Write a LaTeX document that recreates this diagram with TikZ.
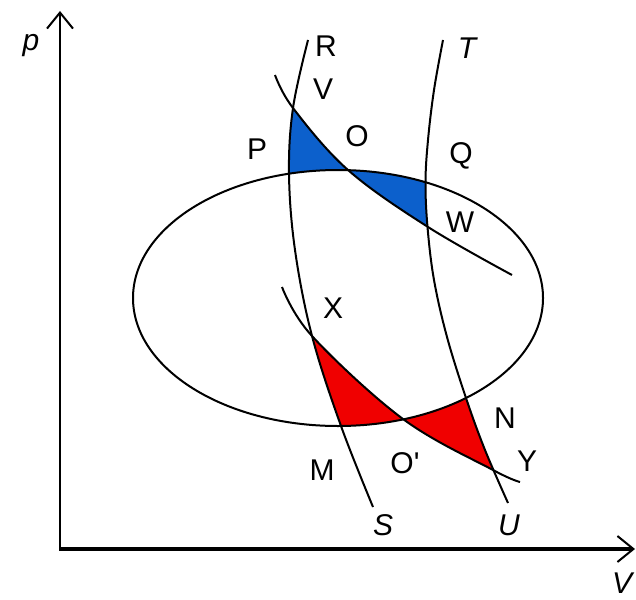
\documentclass[tikz,border=0pt]{standalone}
\usepackage{fontspec}
\setmainfont{Liberation Sans}
\usetikzlibrary{arrows.meta}
\definecolor{regblue}{RGB}{12,96,204}
\definecolor{regred}{RGB}{240,0,0}
\newcommand\curveRS{plot[smooth,tension=0.6] coordinates {(308,40) (293,108) (289,174) (295,250) (312,336) (341,426) (373,507)}}
\newcommand\curveTU{plot[smooth,tension=0.6] coordinates {(443,40) (434,90) (428,140) (425.5,182) (427.5,227) (434,280) (447,337) (466,398) (485,450) (508,503)}}
\newcommand\curveVW{plot[smooth,tension=0.6] coordinates {(275,75) (293,108) (348,170) (428,227) (512,275)}}
\newcommand\curveXY{plot[smooth,tension=0.6] coordinates {(282,287) (312,336) (403,419) (493,470) (520,482)}}
\newcommand\ellpath{(338,298) ellipse [x radius=205, y radius=128]}
\tikzset{
  curve/.style={line width=1pt, black},
  lbl/.style={font=\fontsize{15}{18}\selectfont, inner sep=0pt},
  ilbl/.style={lbl, font=\fontsize{15}{18}\selectfont\itshape},
  axis/.style={black, -{Straight Barb[length=8pt, width=13pt, line width=1pt]}}
}
\begin{document}
\begin{tikzpicture}[x=0.5pt, y=-0.5pt]
\useasboundingbox (0,0) rectangle (636,599);
\fill[white] (0,0) rectangle (636,599);
% blue region 1 (V-O-P)
\begin{scope}
  \clip (283,100) rectangle (352,176);
  \clip \curveRS -- (700,507) -- (700,40) -- cycle;
  \clip \curveVW -- (512,600) -- (275,600) -- cycle;
  \fill[regblue, even odd rule] (0,0) rectangle (636,599) \ellpath;
\end{scope}
% blue region 2 (O-Q-W)
\begin{scope}
  \clip (346,160) rectangle (432,232);
  \clip \ellpath;
  \clip \curveVW -- (512,0) -- (275,0) -- cycle;
  \clip \curveTU -- (0,503) -- (0,40) -- cycle;
  \fill[regblue] (0,0) rectangle (636,599);
\end{scope}
% red region 1 (X-O'-M)
\begin{scope}
  \clip (300,325) rectangle (405,432);
  \clip \ellpath;
  \clip \curveRS -- (700,507) -- (700,40) -- cycle;
  \clip \curveXY -- (520,600) -- (282,600) -- cycle;
  \fill[regred] (0,0) rectangle (636,599);
\end{scope}
% red region 2 (O'-N-Y)
\begin{scope}
  \clip (400,392) rectangle (496,474);
  \clip \curveXY -- (520,0) -- (282,0) -- cycle;
  \clip \curveTU -- (0,503) -- (0,40) -- cycle;
  \fill[regred, even odd rule] (0,0) rectangle (636,599) \ellpath;
\end{scope}
% curves
\draw[curve] \ellpath;
\draw[curve] \curveRS;
\draw[curve] \curveTU;
\draw[curve] \curveVW;
\draw[curve] \curveXY;
% axes
\coordinate (o) at (60,549);
\coordinate (ptop) at (60,11);
\coordinate (vend) at (635,549);
\draw[axis, line width=1pt] (o) -- (ptop);
\draw[axis, line width=1.7pt] ([xshift=-0.5pt]o) -- (vend);
% labels
\node[ilbl] (lp) at (31,46) {p};
\node[ilbl] (lV) at (622,583) {V};
\node[lbl] (lR) at (326,46) {R};
\node[lbl] (lVV) at (323,89) {V};
\node[ilbl] (lT) at (467,48) {T};
\node[lbl] (lP) at (257,149) {P};
\node[lbl] (lO) at (357,136) {O};
\node[lbl] (lQ) at (461,156) {Q};
\node[lbl] (lW) at (460,222) {W};
\node[lbl] (lX) at (333,308) {X};
\node[lbl] (lM) at (322,470) {M};
\node[lbl] (lOp) at (405,463) {O\textquotesingle};
\node[lbl] (lN) at (505,418) {N};
\node[lbl] (lY) at (527,461) {Y};
\node[ilbl] (lS) at (383,525) {S};
\node[ilbl] (lU) at (509,525) {U};
\end{tikzpicture}
\end{document}
